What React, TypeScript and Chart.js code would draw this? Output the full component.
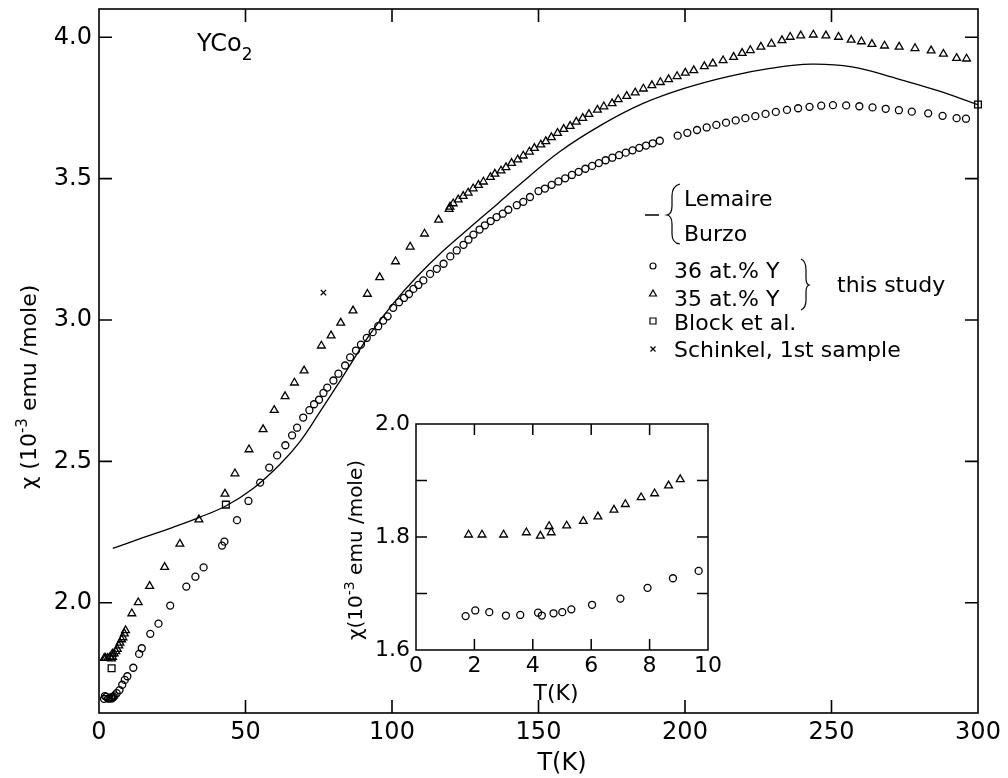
import React, { useEffect, useRef } from "react";
import { Chart, registerables } from "chart.js";

Chart.register(...registerables);

const FONT = "'DejaVu Sans', 'Liberation Sans', sans-serif";

// ---------------- data (T in K, chi in 1e-3 emu/mole) ----------------
// inset: low temperature data
const inset36: [number, number][] = [
  [1.7, 1.66], [2.03, 1.67], [2.51, 1.667], [3.08, 1.661], [3.57, 1.662], [4.18, 1.666], [4.31, 1.661],
  [4.71, 1.665], [5.01, 1.667], [5.32, 1.672], [6.03, 1.68], [7.0, 1.691], [7.93, 1.71], [8.8, 1.727], [9.68, 1.74],
];
const inset35: [number, number][] = [
  [1.8, 1.804], [2.26, 1.804], [3.0, 1.804], [3.78, 1.808], [4.26, 1.802], [4.56, 1.819], [4.63, 1.808],
  [5.16, 1.82], [5.73, 1.828], [6.23, 1.836], [6.78, 1.848], [7.17, 1.858], [7.71, 1.87], [8.17, 1.877],
  [8.65, 1.891], [9.05, 1.902],
];

// main plot: 36 at.% Y (circles), above 10 K
const chi36Main: [number, number][] = [
  [11.7, 1.77], [13.7, 1.819], [14.6, 1.839], [17.5, 1.89], [20.3, 1.926], [24.3, 1.99], [29.8, 2.057],
  [32.9, 2.092], [35.7, 2.125], [42.0, 2.202], [42.8, 2.216], [47.1, 2.292], [51.0, 2.36], [55.0, 2.425],
  [58.1, 2.478], [60.8, 2.521], [63.6, 2.557], [65.9, 2.592], [67.6, 2.619], [69.7, 2.655], [71.8, 2.681],
  [73.4, 2.702], [75.1, 2.718], [76.6, 2.742], [77.9, 2.761], [80.0, 2.786], [81.7, 2.81], [84.0, 2.839],
  [85.7, 2.868], [87.7, 2.892], [89.4, 2.913], [91.4, 2.937], [93.4, 2.957], [95.3, 2.978], [97.0, 2.998],
  [98.5, 3.013], [100.4, 3.043], [102.4, 3.063], [104.1, 3.078], [105.8, 3.092], [107.3, 3.11], [109.0, 3.124],
  [110.7, 3.14], [113.0, 3.163], [115.3, 3.181], [117.6, 3.199], [119.9, 3.225], [122.1, 3.246], [124.4, 3.266],
  [126.1, 3.284], [127.8, 3.302], [129.9, 3.32], [131.7, 3.335], [133.7, 3.35], [135.7, 3.364], [137.8, 3.376],
  [139.7, 3.39], [142.6, 3.406], [144.8, 3.418], [147.1, 3.435], [150.0, 3.456], [152.2, 3.465], [154.5, 3.478],
  [156.8, 3.49], [159.1, 3.501], [161.4, 3.513], [163.7, 3.524], [166.0, 3.535], [168.3, 3.545], [170.6, 3.555],
  [172.9, 3.565], [175.2, 3.574], [177.5, 3.583], [179.8, 3.592], [182.1, 3.6], [184.4, 3.609], [186.7, 3.617],
  [189.0, 3.625], [191.4, 3.634], [197.5, 3.652], [200.8, 3.662], [204.1, 3.672], [207.4, 3.681], [210.7, 3.69],
  [214.0, 3.698], [217.3, 3.706], [220.6, 3.714], [224.0, 3.721], [227.5, 3.729], [231.0, 3.736], [234.8, 3.743],
  [238.6, 3.749], [242.5, 3.754], [246.5, 3.758], [250.5, 3.76], [255.0, 3.759], [259.5, 3.756], [264.0, 3.752],
  [268.5, 3.747], [273.0, 3.742], [277.4, 3.737], [283.0, 3.731], [287.9, 3.722], [292.7, 3.714], [295.9, 3.712],
];

// main plot: 35 at.% Y (triangles), above 10 K
const chi35Main: [number, number][] = [
  [11.2, 1.962], [13.4, 2.001], [17.3, 2.059], [22.4, 2.126], [27.6, 2.208], [34.1, 2.294], [43.0, 2.385],
  [46.4, 2.457], [51.2, 2.542], [56.0, 2.613], [59.8, 2.681], [63.5, 2.73], [66.7, 2.778], [70.0, 2.821],
  [75.9, 2.909], [79.2, 2.945], [82.5, 2.99], [86.7, 3.033], [91.6, 3.092], [95.8, 3.151], [101.2, 3.207],
  [106.2, 3.259], [111.1, 3.305], [115.9, 3.354], [119.5, 3.392], [119.8, 3.4], [120.9, 3.412], [122.6, 3.426],
  [124.3, 3.438], [126.0, 3.45], [127.7, 3.465], [129.5, 3.477], [131.2, 3.489], [133.6, 3.505], [135.1, 3.517],
  [137.2, 3.528], [138.9, 3.54], [140.8, 3.555], [142.9, 3.567], [144.8, 3.581], [146.9, 3.595], [148.6, 3.608],
  [150.8, 3.62], [152.5, 3.632], [154.4, 3.646], [156.5, 3.661], [158.6, 3.675], [160.8, 3.686], [162.9, 3.701],
  [165.1, 3.714], [167.2, 3.728], [170.1, 3.743], [172.3, 3.755], [175.1, 3.766], [177.2, 3.78], [180.1, 3.792],
  [183.0, 3.804], [185.8, 3.818], [188.7, 3.83], [191.6, 3.841], [194.4, 3.851], [197.3, 3.862], [200.1, 3.874],
  [203.0, 3.883], [206.6, 3.897], [209.5, 3.907], [213.0, 3.918], [216.6, 3.93], [219.5, 3.944], [222.3, 3.954],
  [225.9, 3.966], [229.5, 3.977], [233.1, 3.989], [235.9, 4.001], [239.5, 4.006], [243.8, 4.009], [248.1, 4.006],
  [252.4, 4.001], [256.7, 3.991], [260.2, 3.985], [263.8, 3.976], [268.1, 3.97], [273.1, 3.966], [278.5, 3.961],
  [284.0, 3.953], [288.2, 3.941], [292.7, 3.926], [296.1, 3.924],
];

// Block et al. (squares)
const blockEtAl: [number, number][] = [[4.3, 1.768], [43.3, 2.347], [300, 3.762]];
// Schinkel, 1st sample (cross)
const schinkel: [number, number][] = [[76.6, 3.097]];
// Lemaire / Burzo (solid curve)
const lemaireBurzo: [number, number][] = [
  [4.7, 2.192], [15, 2.23], [25, 2.266], [34.5, 2.303], [43.6, 2.344], [52.7, 2.405], [61.8, 2.49],
  [68.6, 2.57], [75.4, 2.675], [82.3, 2.785], [92.5, 2.95], [100.4, 3.058], [108.4, 3.152], [117.5, 3.245],
  [126.6, 3.327], [135.7, 3.408], [143.7, 3.48], [157.2, 3.595], [171.5, 3.69], [185.5, 3.765], [200, 3.82],
  [215, 3.862], [229, 3.89], [243, 3.905], [257, 3.895], [272, 3.855], [286, 3.812], [300, 3.762],
];

// ticks
const mainXTicks = [0, 50, 100, 150, 200, 250, 300];
const mainYTicks = [2.0, 2.5, 3.0, 3.5, 4.0];
const mainXMarks = [50, 100, 150, 200, 250];
const mainYMarks = [2.0, 2.5, 3.0, 3.5, 4.0];
const insetXTicks = [0, 2, 4, 6, 8, 10];
const insetYTicks = [1.6, 1.8, 2.0];
const insetXMarks = [2, 4, 6, 8];
const insetYMarks = [1.7, 1.8, 1.9];

// ---------------- helpers ----------------
const toPts = (a: [number, number][]) => a.map(([x, y]) => ({ x, y }));

type Part = { t: string; size: number; dy?: number };
function drawParts(ctx: CanvasRenderingContext2D, parts: Part[], x: number, y: number, align: "left" | "center") {
  ctx.textAlign = "left";
  ctx.textBaseline = "alphabetic";
  let total = 0;
  const widths = parts.map((p) => {
    ctx.font = `${p.size}px ${FONT}`;
    const w = ctx.measureText(p.t).width;
    total += w;
    return w;
  });
  let cx = align === "center" ? x - total / 2 : x;
  parts.forEach((p, i) => {
    ctx.font = `${p.size}px ${FONT}`;
    ctx.fillText(p.t, cx, y + (p.dy || 0));
    cx += widths[i];
  });
}

function marker(ctx: CanvasRenderingContext2D, kind: string, x: number, y: number) {
  ctx.beginPath();
  if (kind === "circle") {
    ctx.arc(x, y, 3, 0, Math.PI * 2);
  } else if (kind === "triangle") {
    const r = 4;
    for (let i = 0; i < 3; i++) {
      const a = (i * 2 * Math.PI) / 3;
      const px = x + Math.sin(a) * r;
      const py = y - Math.cos(a) * r;
      if (i === 0) ctx.moveTo(px, py);
      else ctx.lineTo(px, py);
    }
    ctx.closePath();
  } else if (kind === "rect") {
    ctx.rect(x - 3, y - 3, 6, 6);
  } else if (kind === "cross") {
    ctx.moveTo(x - 2.5, y - 2.5);
    ctx.lineTo(x + 2.5, y + 2.5);
    ctx.moveTo(x + 2.5, y - 2.5);
    ctx.lineTo(x - 2.5, y + 2.5);
  }
  ctx.stroke();
}

function makeFramePlugin(id: string, xMarks: number[], yMarks: number[], len: number, lw: number) {
  return {
    id,
    afterDatasetsDraw(chart: any) {
      const { ctx, chartArea: a, scales } = chart;
      const xs = scales.x;
      const ys = scales.y;
      ctx.save();
      ctx.strokeStyle = "#000";
      ctx.lineWidth = lw;
      ctx.strokeRect(a.left, a.top, a.right - a.left, a.bottom - a.top);
      ctx.beginPath();
      for (const v of xMarks) {
        const p = xs.getPixelForValue(v);
        ctx.moveTo(p, a.bottom);
        ctx.lineTo(p, a.bottom - len);
        ctx.moveTo(p, a.top);
        ctx.lineTo(p, a.top + len);
      }
      for (const v of yMarks) {
        const p = ys.getPixelForValue(v);
        ctx.moveTo(a.left, p);
        ctx.lineTo(a.left + len, p);
        ctx.moveTo(a.right, p);
        ctx.lineTo(a.right - len, p);
      }
      ctx.stroke();
      ctx.restore();
    },
  };
}

const INSET_LEFT = 330;
const INSET_TOP = 400;

const mainTextPlugin = {
  id: "mainText",
  afterDraw(chart: any) {
    const ctx: CanvasRenderingContext2D = chart.ctx;
    ctx.save();
    ctx.fillStyle = "#000";
    ctx.strokeStyle = "#000";
    // axis titles
    drawParts(ctx, [{ t: "T(K)", size: 24 }], 562, 770, "center");
    ctx.save();
    ctx.translate(36, 387);
    ctx.rotate(-Math.PI / 2);
    drawParts(
      ctx,
      [
        { t: "χ (10", size: 22 },
        { t: "-3", size: 15, dy: -9 },
        { t: " emu /mole)", size: 22 },
      ],
      0,
      0,
      "center"
    );
    ctx.restore();
    // compound label
    drawParts(ctx, [{ t: "YCo", size: 24 }, { t: "2", size: 17, dy: 9 }], 197, 51, "left");

    // legend
    ctx.lineWidth = 1.5;
    ctx.beginPath();
    ctx.moveTo(645, 215);
    ctx.lineTo(659, 215);
    ctx.stroke();
    // left brace
    ctx.lineWidth = 1.2;
    ctx.beginPath();
    ctx.moveTo(680, 184);
    ctx.quadraticCurveTo(672, 186, 672, 196);
    ctx.lineTo(672, 206);
    ctx.quadraticCurveTo(672, 214, 667, 215);
    ctx.quadraticCurveTo(672, 216, 672, 224);
    ctx.lineTo(672, 234);
    ctx.quadraticCurveTo(672, 243, 680, 244);
    ctx.stroke();
    drawParts(ctx, [{ t: "Lemaire", size: 22 }], 684, 206, "left");
    drawParts(ctx, [{ t: "Burzo", size: 22 }], 684, 241, "left");

    ctx.lineWidth = 1.2;
    marker(ctx, "circle", 653, 266);
    drawParts(ctx, [{ t: "36 at.% Y", size: 22 }], 674, 278, "left");
    marker(ctx, "triangle", 653, 294);
    drawParts(ctx, [{ t: "35 at.% Y", size: 22 }], 674, 306, "left");
    marker(ctx, "rect", 653, 321);
    drawParts(ctx, [{ t: "Block et al.", size: 22 }], 674, 330, "left");
    marker(ctx, "cross", 653, 349);
    drawParts(ctx, [{ t: "Schinkel, 1st sample", size: 22 }], 674, 357, "left");

    // right brace
    ctx.lineWidth = 1.2;
    ctx.beginPath();
    ctx.moveTo(801, 259);
    ctx.quadraticCurveTo(806, 261, 806, 270);
    ctx.lineTo(806, 278);
    ctx.quadraticCurveTo(806, 284, 809, 285);
    ctx.quadraticCurveTo(806, 286, 806, 292);
    ctx.lineTo(806, 300);
    ctx.quadraticCurveTo(806, 308, 801, 310);
    ctx.stroke();
    drawParts(ctx, [{ t: "this study", size: 22 }], 837, 292, "left");
    ctx.restore();
  },
};

const insetTextPlugin = {
  id: "insetText",
  afterDraw(chart: any) {
    const ctx: CanvasRenderingContext2D = chart.ctx;
    ctx.save();
    ctx.fillStyle = "#000";
    drawParts(ctx, [{ t: "T(K)", size: 22 }], 556 - INSET_LEFT, 700 - INSET_TOP, "center");
    ctx.translate(362 - INSET_LEFT, 550 - INSET_TOP);
    ctx.rotate(-Math.PI / 2);
    drawParts(
      ctx,
      [
        { t: "χ(10", size: 20 },
        { t: "-3", size: 14, dy: -8 },
        { t: " emu /mole)", size: 20 },
      ],
      0,
      0,
      "center"
    );
    ctx.restore();
  },
};

function pointDs(label: string, data: [number, number][], style: string, r: number) {
  return {
    label,
    data: toPts(data),
    pointStyle: style,
    pointRadius: r,
    pointHoverRadius: r,
    borderColor: "#000",
    backgroundColor: "rgba(0,0,0,0)",
    pointBorderWidth: 1.3,
    borderWidth: 1.3,
    showLine: false,
    clip: false,
  };
}

function axisCommon(fontSize: number, padding: number, fmt: (v: number) => string) {
  return {
    type: "linear",
    grid: { display: false, drawTicks: false },
    border: { display: false },
    ticks: {
      font: { family: FONT, size: fontSize },
      color: "#000",
      padding,
      maxRotation: 0,
      autoSkip: false,
      callback: (v: any) => fmt(Number(v)),
    },
  };
}

const zeroPad = (s: any) => {
  s.paddingTop = 0;
  s.paddingBottom = 0;
  s.paddingLeft = 0;
  s.paddingRight = 0;
};

export default function App() {
  const mainRef = useRef<HTMLCanvasElement>(null);
  const insetRef = useRef<HTMLCanvasElement>(null);

  useEffect(() => {
    if (!mainRef.current || !insetRef.current) return;

    const main = new Chart(mainRef.current, {
      type: "scatter",
      data: {
        datasets: [
          {
            label: "Lemaire / Burzo",
            data: toPts(lemaireBurzo),
            showLine: true,
            pointRadius: 0,
            pointHoverRadius: 0,
            borderColor: "#000",
            borderWidth: 1.3,
            tension: 0.4,
            fill: false,
          } as any,
          pointDs("36 at.% Y", [...inset36, ...chi36Main], "circle", 3.5) as any,
          pointDs("35 at.% Y", [...inset35, ...chi35Main], "triangle", 4.5) as any,
          pointDs("Block et al.", blockEtAl, "rect", 4.8) as any,
          pointDs("Schinkel, 1st sample", schinkel, "crossRot", 3.8) as any,
        ],
      },
      options: {
        responsive: false,
        maintainAspectRatio: false,
        animation: false,
        events: [],
        layout: { padding: { left: 0, right: 30, top: 9, bottom: 0 } },
        plugins: { legend: { display: false }, tooltip: { enabled: false } },
        scales: {
          x: {
            ...axisCommon(24, 5, (v) => String(Math.round(v))),
            min: 0,
            max: 300,
            afterBuildTicks: (s: any) => {
              s.ticks = mainXTicks.map((v) => ({ value: v }));
            },
            afterFit: (s: any) => {
              s.height = 65;
              zeroPad(s);
            },
          },
          y: {
            ...axisCommon(24, 7, (v) => v.toFixed(1)),
            min: 1.61,
            max: 4.1,
            afterBuildTicks: (s: any) => {
              s.ticks = mainYTicks.map((v) => ({ value: v }));
            },
            afterFit: (s: any) => {
              s.width = 99;
              zeroPad(s);
            },
          },
        } as any,
      },
      plugins: [makeFramePlugin("mainFrame", mainXMarks, mainYMarks, 13, 1.6), mainTextPlugin],
    });

    const inset = new Chart(insetRef.current, {
      type: "scatter",
      data: {
        datasets: [
          pointDs("36 at.% Y", inset36, "circle", 3.5) as any,
          pointDs("35 at.% Y", inset35, "triangle", 4.5) as any,
        ],
      },
      options: {
        responsive: false,
        maintainAspectRatio: false,
        animation: false,
        events: [],
        layout: { padding: { left: 0, right: 22, top: 24, bottom: 0 } },
        plugins: { legend: { display: false }, tooltip: { enabled: false } },
        scales: {
          x: {
            ...axisCommon(22, 3, (v) => String(Math.round(v))),
            min: 0,
            max: 10,
            afterBuildTicks: (s: any) => {
              s.ticks = insetXTicks.map((v) => ({ value: v }));
            },
            afterFit: (s: any) => {
              s.height = 60;
              zeroPad(s);
            },
          },
          y: {
            ...axisCommon(22, 6, (v) => v.toFixed(1)),
            min: 1.6,
            max: 2.0,
            afterBuildTicks: (s: any) => {
              s.ticks = insetYTicks.map((v) => ({ value: v }));
            },
            afterFit: (s: any) => {
              s.width = 86;
              zeroPad(s);
            },
          },
        } as any,
      },
      plugins: [makeFramePlugin("insetFrame", insetXMarks, insetYMarks, 11, 1.5), insetTextPlugin],
    });

    return () => {
      main.destroy();
      inset.destroy();
    };
  }, []);

  return (
    <div style={{ position: "fixed", left: 0, top: 0, width: 1008, height: 778, background: "#fff", overflow: "hidden" }}>
      <canvas ref={mainRef} width={1008} height={778} style={{ position: "absolute", left: 0, top: 0 }} />
      <canvas
        ref={insetRef}
        width={400}
        height={310}
        style={{ position: "absolute", left: INSET_LEFT, top: INSET_TOP }}
      />
    </div>
  );
}
